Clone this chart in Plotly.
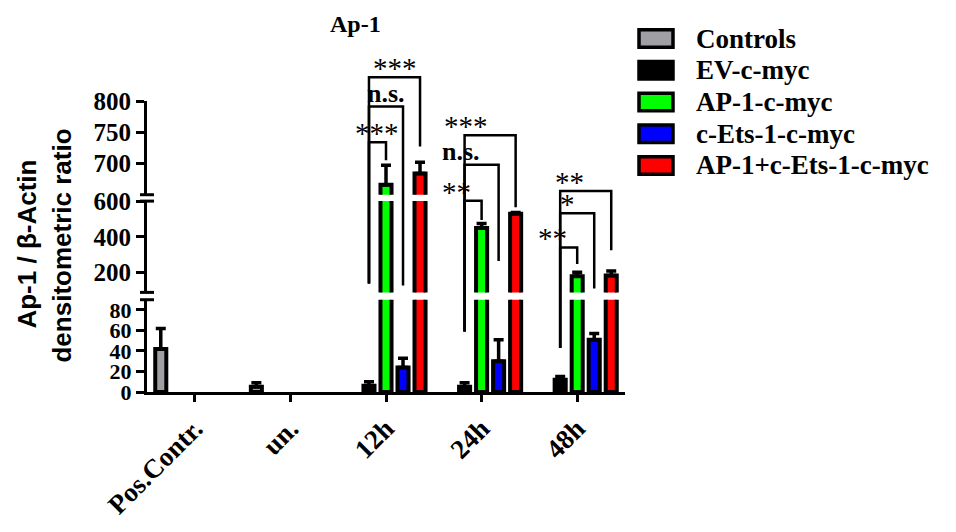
import plotly.graph_objects as go

# ---------------- data ----------------
categories = ["Pos.Contr.", "un.", "12h", "24h", "48h"]
series_names = ["Controls", "EV-c-myc", "AP-1-c-myc", "c-Ets-1-c-myc", "AP-1+c-Ets-1-c-myc"]
series_colors = ["#A0A0A4", "#000000", "#00FF00", "#0000FF", "#FF0000"]

controls_vals = [42, 5, None, None, None]
controls_err = [20, 4, None, None, None]
ev_vals = [None, None, 6, 5, 12]
ev_err = [None, None, 4, 4, 3]
ap1_vals = [None, None, 666, 450, 180]
ap1_err = [None, None, 31, 25, 22]
ets_vals = [None, None, 24, 30, 51]
ets_err = [None, None, 9, 21, 6]
combo_vals = [None, None, 684, 530, 185]
combo_err = [None, None, 18, 6, 25]

series_vals = [controls_vals, ev_vals, ap1_vals, ets_vals, combo_vals]
series_errs = [controls_err, ev_err, ap1_err, ets_err, combo_err]

# segmented y axis: bottom, middle, top
seg_ranges = [(0, 90), (90, 600), (650, 800)]
seg_ticks = [[0, 20, 40, 60, 80], [200, 400, 600], [700, 750, 800]]

# significance brackets: (category, target series, label, top level, left leg end, right leg end)
brackets = [
    ("12h", 2, "***", 734, 139, 705),
    ("12h", 3, "n.s.", 791, 139, 128),
    ("12h", 4, "***", 838, 139, 727),
    ("24h", 2, "**", 602, 59, 494),
    ("24h", 3, "n.s.", 698, 59, 265),
    ("24h", 4, "***", 745, 59, 565),
    ("48h", 2, "**", 341, 43, 248),
    ("48h", 3, "*", 532, 43, 112),
    ("48h", 4, "**", 656, 43, 325),
]

# ---------------- layout constants ----------------
BODY = 8  # default page body margin of the html page
W, H = 956 - BODY, 532 - BODY
ML, MR, MT, MB = 147 - BODY, 331, 101 - BODY, 133
PX0, PY0 = 147, 101          # plot-area origin in window pixels
PW, PH = W - ML - MR, H - MT - MB
seg_domains = [(0.0, 0.3171), (0.3423, 0.6560), (0.6779, 1.0)]
BARGAP = 0.11
SLOT = (1 - BARGAP) / len(series_names)

SERIF = "Liberation Serif, Times New Roman, serif"
SANS = "Liberation Sans, Arial, sans-serif"


def px_x(px):
    return (px - PX0) / PW


def px_y(py):
    return (PY0 + PH - py) / PH


def to_paper_y(v):
    if v <= seg_ranges[0][1]:
        k = 0
    elif v <= 625:
        k = 1
    else:
        k = 2
    lo, hi = seg_ranges[k]
    d0, d1 = seg_domains[k]
    return d0 + (v - lo) / (hi - lo) * (d1 - d0)


def to_paper_x(cat, k):
    i = categories.index(cat)
    return (i + 0.5 + (k - 2) * SLOT) / len(categories)


fig = go.Figure()

axis_ids = ["", "2", "3"]
for s, aid in enumerate(axis_ids):
    for k, name in enumerate(series_names):
        errs = [e if e is not None else 0 for e in series_errs[k]]
        fig.add_trace(go.Bar(
            x=categories, y=series_vals[k], name=name,
            xaxis="x" + aid, yaxis="y" + aid,
            marker=dict(color=series_colors[k], line=dict(color="black", width=4)),
            error_y=dict(type="data", symmetric=False, array=errs,
                         arrayminus=[0] * len(errs), color="black",
                         thickness=3.5, width=5),
            showlegend=False, offsetgroup=str(k),
        ))

layout = dict(
    width=W, height=H,
    margin=dict(l=ML, r=MR, t=MT, b=MB, pad=0),
    paper_bgcolor="white", plot_bgcolor="white",
    barmode="group", bargap=BARGAP, bargroupgap=0.35,
    showlegend=False,
)

tick_sizes = [22, 25, 25]
for s, aid in enumerate(axis_ids):
    layout["yaxis" + aid] = dict(
        domain=list(seg_domains[s]), range=list(seg_ranges[s]),
        tickvals=seg_ticks[s], ticks="outside", ticklen=8, tickwidth=3,
        tickcolor="black", showline=True, linewidth=3, linecolor="black",
        showgrid=False, zeroline=False, anchor="x" + aid,
        tickfont=dict(family=SERIF, size=tick_sizes[s], color="black", weight="bold"),
    )
    if s == 0:
        layout["xaxis"] = dict(
            range=[-0.5, 4.5], showline=True, linewidth=3, linecolor="black",
            ticks="outside", ticklen=7, tickwidth=3, tickcolor="black",
            tickangle=-45, showgrid=False, zeroline=False, anchor="y",
            tickfont=dict(family=SERIF, size=27, color="black", weight="bold"),
        )
    else:
        layout["xaxis" + aid] = dict(
            range=[-0.5, 4.5], matches="x", showline=False, showticklabels=False,
            ticks="", showgrid=False, zeroline=False, anchor="y" + aid,
        )

fig.update_layout(**layout)

shapes = []
annotations = []

# axis break marks
half = 7 / PW
for s in range(3):
    d0, d1 = seg_domains[s]
    if s > 0:
        shapes.append(dict(type="line", xref="paper", yref="paper", x0=-half, x1=half,
                           y0=d0, y1=d0, line=dict(color="black", width=3)))
    if s < 2:
        shapes.append(dict(type="line", xref="paper", yref="paper", x0=-half, x1=half,
                           y0=d1, y1=d1, line=dict(color="black", width=3)))

# significance brackets
for cat, tgt, label, top, lend, rend in brackets:
    xl = to_paper_x(cat, 1)
    xr = to_paper_x(cat, tgt)
    yt = to_paper_y(top)
    path = f"M{xl},{to_paper_y(lend)} L{xl},{yt} L{xr},{yt} L{xr},{to_paper_y(rend)}"
    shapes.append(dict(type="path", xref="paper", yref="paper", path=path,
                       line=dict(color="black", width=2.5)))
    if label.startswith("*"):
        annotations.append(dict(x=(xl + xr) / 2, y=yt, xref="paper", yref="paper",
                                text=label, showarrow=False, yanchor="bottom",
                                yshift=-9,
                                font=dict(family=SERIF, size=29, color="black")))
    else:
        annotations.append(dict(x=(xl + xr) / 2, y=yt, xref="paper", yref="paper",
                                text=label, showarrow=False, yanchor="bottom",
                                yshift=-3,
                                font=dict(family=SERIF, size=26, color="black", weight="bold")))

# custom legend
for j, (name, col) in enumerate(zip(series_names, series_colors)):
    yc = 37 + 32.5 * j
    shapes.append(dict(type="rect", xref="paper", yref="paper",
                       x0=px_x(639), x1=px_x(673),
                       y0=px_y(yc + 9), y1=px_y(yc - 9),
                       fillcolor=col, line=dict(color="black", width=3.5)))
    annotations.append(dict(x=px_x(694), y=px_y(yc), xref="paper", yref="paper",
                            text=name, showarrow=False, xanchor="left", yanchor="middle",
                            font=dict(family=SERIF, size=27, color="black", weight="bold")))

# title
annotations.append(dict(x=px_x(355), y=px_y(22), xref="paper", yref="paper",
                        text="Ap-1", showarrow=False, xanchor="center", yanchor="middle",
                        font=dict(family=SERIF, size=24, color="black", weight="bold")))

# y-axis title (two lines)
annotations.append(dict(x=px_x(27), y=px_y(248), xref="paper", yref="paper",
                        text="Ap-1 / β-Actin", showarrow=False, textangle=-90,
                        xanchor="center", yanchor="middle",
                        font=dict(family=SANS, size=26, color="black", weight="bold")))
annotations.append(dict(x=px_x(62), y=px_y(249), xref="paper", yref="paper",
                        text="densitometric ratio", showarrow=False, textangle=-90,
                        xanchor="center", yanchor="middle",
                        font=dict(family=SANS, size=26, color="black", weight="bold")))

fig.update_layout(shapes=shapes, annotations=annotations)
fig.write_html("out.html")
